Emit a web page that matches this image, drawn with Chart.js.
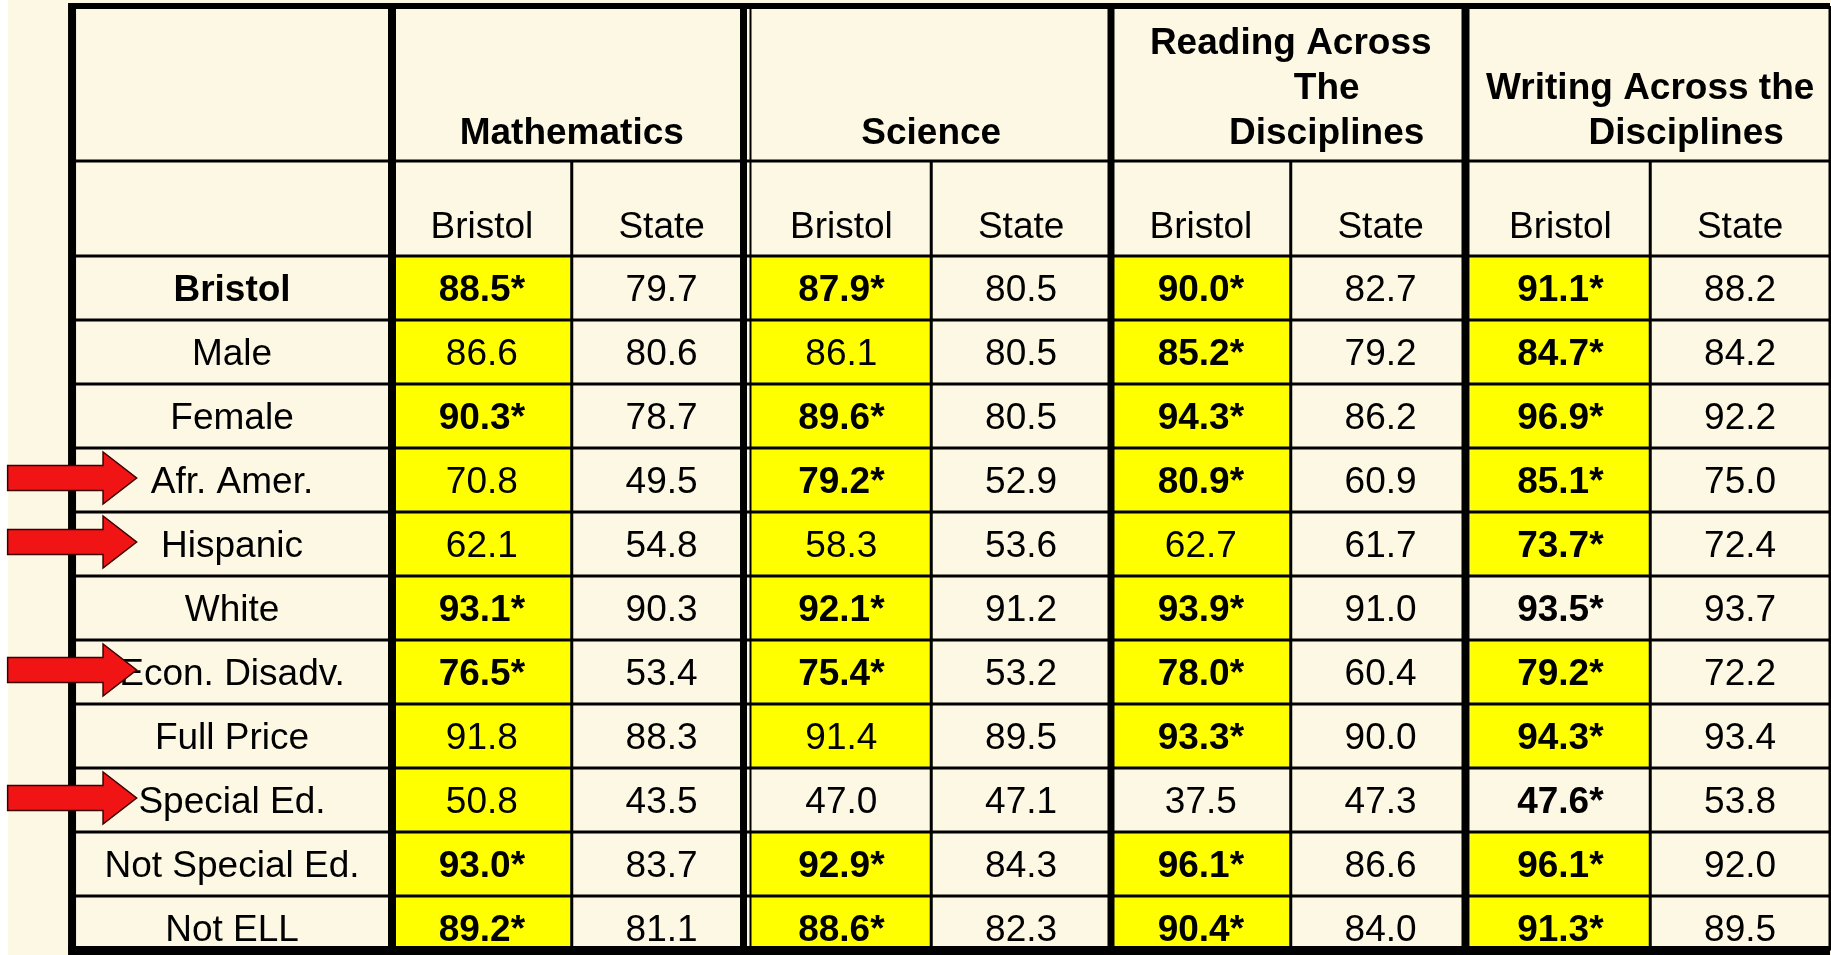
<!DOCTYPE html>
<html>
<head>
<meta charset="utf-8">
<style>
  html, body { margin: 0; padding: 0; background: #fdf8e4; overflow: hidden; }
  #wrap { position: relative; width: 1831px; height: 955px; }
</style>
<script src="https://cdn.jsdelivr.net/npm/chart.js@4/dist/chart.umd.min.js"></script>
</head>
<body>
<div id="wrap"><canvas id="c"></canvas></div>
<script>
// ---------------- DATA ----------------
const subjects = ['Mathematics', 'Science', 'Reading Across\nThe\nDisciplines', 'Writing Across the\nDisciplines'];
const groups = ['Bristol', 'State'];
const rowLabels = ['Bristol', 'Male', 'Female', 'Afr. Amer.', 'Hispanic', 'White', 'Econ. Disadv.', 'Full Price', 'Special Ed.', 'Not Special Ed.', 'Not ELL'];

const mathBristol  = [88.5, 86.6, 90.3, 70.8, 62.1, 93.1, 76.5, 91.8, 50.8, 93.0, 89.2];
const mathState    = [79.7, 80.6, 78.7, 49.5, 54.8, 90.3, 53.4, 88.3, 43.5, 83.7, 81.1];
const mathSig      = [1, 0, 1, 0, 0, 1, 1, 0, 0, 1, 1];

const sciBristol   = [87.9, 86.1, 89.6, 79.2, 58.3, 92.1, 75.4, 91.4, 47.0, 92.9, 88.6];
const sciState     = [80.5, 80.5, 80.5, 52.9, 53.6, 91.2, 53.2, 89.5, 47.1, 84.3, 82.3];
const sciSig       = [1, 0, 1, 1, 0, 1, 1, 0, 0, 1, 1];

const readBristol  = [90.0, 85.2, 94.3, 80.9, 62.7, 93.9, 78.0, 93.3, 37.5, 96.1, 90.4];
const readState    = [82.7, 79.2, 86.2, 60.9, 61.7, 91.0, 60.4, 90.0, 47.3, 86.6, 84.0];
const readSig      = [1, 1, 1, 1, 0, 1, 1, 1, 0, 1, 1];

const writeBristol = [91.1, 84.7, 96.9, 85.1, 73.7, 93.5, 79.2, 94.3, 47.6, 96.1, 91.3];
const writeState   = [88.2, 84.2, 92.2, 75.0, 72.4, 93.7, 72.2, 93.4, 53.8, 92.0, 89.5];
const writeSig     = [1, 1, 1, 1, 1, 1, 1, 1, 1, 1, 1];

const arrowRows = ['Afr. Amer.', 'Hispanic', 'Econ. Disadv.', 'Special Ed.'];

// ---------------- STYLE / LAYOUT ----------------
const CREAM = '#fdf8e4';
const YELLOW = '#ffff00';
const FONT = '"Liberation Sans", Arial, Helvetica, sans-serif';
const FS = 37;
// layout in scale units (x: one data column, y: one data row)
const L = {
  xMin: -2.1808, xMax: 8.0056,
  yMin: -4, yMax: 10.922,
  tableLeft: -1.78, tableRight: 8,
  top: -3.906, header2Top: -1.484, bottom: 10.85,
  h1Last: -1.956, h1Pitch: 0.703, h1Shift: 0.2,
  h2Text: -0.492
};

const subjectData = [
  { b: mathBristol,  s: mathState,  sig: mathSig },
  { b: sciBristol,   s: sciState,   sig: sciSig },
  { b: readBristol,  s: readState,  sig: readSig },
  { b: writeBristol, s: writeState, sig: writeSig }
];

// highlighted (yellow) Bristol cells: Bristol above State
const datasets = subjectData.map((sd, k) => ({
  label: subjects[k],
  data: rowLabels.map((r, i) => (sd.b[i] > sd.s[i] ? { x: [2 * k, 2 * k + 1], y: i + 0.5 } : null)).filter(Boolean),
  backgroundColor: YELLOW,
  borderWidth: 0,
  grouped: false,
  barPercentage: 1,
  categoryPercentage: 1
}));

const tablePlugin = {
  id: 'tablePlugin',
  beforeDraw(chart) {
    const { ctx, width, height } = chart;
    ctx.save();
    ctx.fillStyle = '#ffffff';
    ctx.fillRect(0, 0, width, height);
    ctx.fillStyle = CREAM;
    ctx.fillRect(8, 0, width - 8, height);
    ctx.restore();
  },
  afterDatasetsDraw(chart) {
    const { ctx } = chart;
    const xs = chart.scales.x, ys = chart.scales.y;
    const X = v => xs.getPixelForValue(v);
    const Y = v => ys.getPixelForValue(v);
    const left = X(L.tableLeft), right = X(L.tableRight);
    const top = Y(L.top), bottom = Y(L.bottom), h2 = Y(L.header2Top);

    ctx.save();
    ctx.strokeStyle = '#000';
    const line = (x1, y1, x2, y2, w) => {
      ctx.lineWidth = w;
      ctx.beginPath(); ctx.moveTo(x1, y1); ctx.lineTo(x2, y2); ctx.stroke();
    };
    // thin horizontal lines
    line(left, h2, right, h2, 3);
    for (let i = 0; i < rowLabels.length; i++) line(left, Y(i), right, Y(i), 3);
    // thin vertical lines (Bristol | State)
    for (let k = 0; k < subjects.length; k++) line(X(2 * k + 1), h2, X(2 * k + 1), bottom, 3);
    // thick vertical lines
    line(X(0), top, X(0), bottom, 8);
    line(X(2) - 8, top, X(2) - 8, bottom, 7);
    line(X(2) - 1, top, X(2) - 1, bottom, 2);
    line(X(4), top, X(4), bottom, 7);
    line(X(6) - 5, top, X(6) - 5, bottom, 8);
    // outer borders
    line(left - 4, top, right, top, 6);
    line(left, top, left, bottom, 8);
    line(left - 4, bottom, right, bottom, 9);
    line(right, top, right, bottom, 3);

    // text
    ctx.fillStyle = '#000';
    ctx.textAlign = 'center';
    ctx.textBaseline = 'alphabetic';
    const capOff = FS * 0.358;
    const text = (t, x, yc, bold) => {
      ctx.font = (bold ? 'bold ' : '') + FS + 'px ' + FONT;
      ctx.fillText(t, x, yc + capOff);
    };
    subjects.forEach((s, k) => {
      const lines = s.split('\n');
      const n = lines.length;
      lines.forEach((ln, j) => {
        const yv = L.h1Last - (n - 1 - j) * L.h1Pitch;
        const xv = 2 * k + 1 + (j > 0 ? L.h1Shift : 0);
        text(ln, X(xv), Y(yv), true);
      });
      groups.forEach((g, gi) => text(g, X(2 * k + gi + 0.5), Y(L.h2Text), false));
    });
    rowLabels.forEach((r, i) => {
      text(r, X(L.tableLeft / 2), Y(i + 0.5), i === 0);
      subjectData.forEach((sd, k) => {
        text(sd.b[i].toFixed(1) + (sd.sig[i] ? '*' : ''), X(2 * k + 0.5), Y(i + 0.5), !!sd.sig[i]);
        text(sd.s[i].toFixed(1), X(2 * k + 1.5), Y(i + 0.5), false);
      });
    });

    // red arrows
    arrowRows.forEach(name => {
      const i = rowLabels.indexOf(name);
      const cy = Y(i + 0.5) - 2;
      const tail = left - 64.4, neck = left + 31, tip = left + 64.6;
      const sh = 12.5, hh = 26;
      ctx.beginPath();
      ctx.moveTo(tail, cy - sh);
      ctx.lineTo(neck, cy - sh);
      ctx.lineTo(neck, cy - hh);
      ctx.lineTo(tip, cy);
      ctx.lineTo(neck, cy + hh);
      ctx.lineTo(neck, cy + sh);
      ctx.lineTo(tail, cy + sh);
      ctx.closePath();
      ctx.fillStyle = '#f01414';
      ctx.fill();
      ctx.lineWidth = 1.5;
      ctx.strokeStyle = '#3a0000';
      ctx.stroke();
    });
    ctx.restore();
  }
};

new Chart(document.getElementById('c'), {
  type: 'bar',
  data: { datasets },
  options: {
    indexAxis: 'y',
    responsive: true,
    maintainAspectRatio: false,
    animation: false,
    devicePixelRatio: 1,
    layout: { padding: 0 },
    plugins: { legend: { display: false }, tooltip: { enabled: false } },
    scales: {
      x: { type: 'linear', min: L.xMin, max: L.xMax, display: false, offset: false },
      y: { type: 'linear', reverse: true, min: L.yMin, max: L.yMax, display: false, offset: false,
           grid: { offset: false }, ticks: { stepSize: 1, includeBounds: false } }
    }
  },
  plugins: [tablePlugin]
});
</script>
</body>
</html>
